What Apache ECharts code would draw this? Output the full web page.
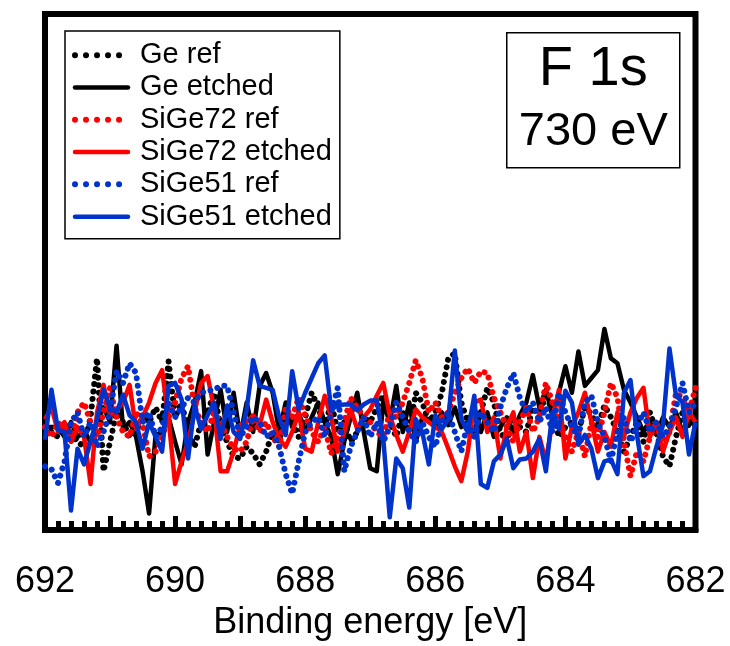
<!DOCTYPE html>
<html>
<head>
<meta charset="utf-8">
<script src="https://cdn.jsdelivr.net/npm/echarts@6.0.0/dist/echarts.min.js"></script>
<style>
  html, body { margin: 0; padding: 0; background: #fff; }
  #root { width: 730px; height: 646px; }
</style>
</head>
<body>
<div id="root"></div>
<script>
// binding energy grid (eV), 0.1 eV step
const energy = [
  692.0, 691.9, 691.8, 691.7, 691.6, 691.5, 691.4, 691.3, 691.2, 691.1,
  691.0, 690.9, 690.8, 690.7, 690.6, 690.5, 690.4, 690.3, 690.2, 690.1,
  690.0, 689.9, 689.8, 689.7, 689.6, 689.5, 689.4, 689.3, 689.2, 689.1,
  689.0, 688.9, 688.8, 688.7, 688.6, 688.5, 688.4, 688.3, 688.2, 688.1,
  688.0, 687.9, 687.8, 687.7, 687.6, 687.5, 687.4, 687.3, 687.2, 687.1,
  687.0, 686.9, 686.8, 686.7, 686.6, 686.5, 686.4, 686.3, 686.2, 686.1,
  686.0, 685.9, 685.8, 685.7, 685.6, 685.5, 685.4, 685.3, 685.2, 685.1,
  685.0, 684.9, 684.8, 684.7, 684.6, 684.5, 684.4, 684.3, 684.2, 684.1,
  684.0, 683.9, 683.8, 683.7, 683.6, 683.5, 683.4, 683.3, 683.2, 683.1,
  683.0, 682.9, 682.8, 682.7, 682.6, 682.5, 682.4, 682.3, 682.2, 682.1,
  682.0
];

// intensities (arb. units)
const geRef = [
  105, 100, 95, 110, 100, 90, 85, 115, 175, 60,
  90, 120, 110, 95, 100, 115, 110, 125, 110, 172,
  115, 130, 100, 85, 110, 120, 140, 105, 90, 75,
  73, 85, 78, 67, 80, 100, 90, 120, 110, 95,
  115, 140, 125, 105, 130, 100, 110, 90, 100, 115,
  110, 125, 138, 110, 95, 120, 100, 140, 130, 110,
  120, 140, 175, 180, 130, 110, 100, 120, 145, 130,
  100, 90, 115, 105, 100, 125, 115, 140, 120, 95,
  105, 110, 100, 125, 118, 105, 127, 115, 100, 80,
  95, 110, 90, 120, 100, 75, 65, 95, 120, 105,
  115
];
const geEtched = [
  105, 105, 105, 95, 110, 95, 100, 90, 110, 125,
  110, 188, 103, 110, 95, 60, 17, 97, 100, 115,
  90, 67, 110, 130, 162, 77, 110, 143, 100, 140,
  95, 130, 100, 147, 160, 140, 100, 130, 105, 120,
  100, 115, 130, 110, 95, 57, 90, 115, 140, 100,
  63, 60, 130, 110, 147, 100, 130, 90, 115, 113,
  105, 120, 107, 125, 105, 110, 125, 100, 120, 95,
  105, 115, 100, 117, 130, 158, 125, 143, 117, 140,
  167, 140, 182, 147, 155, 163, 205, 175, 170, 143,
  130, 115, 100, 110, 97, 115, 105, 120, 100, 110,
  115
];
const sige72Ref = [
  105, 95, 110, 100, 90, 120, 130, 110, 95, 120,
  145, 115, 100, 95, 120, 108, 75, 80, 95, 115,
  130, 155, 167, 125, 110, 100, 120, 110, 95, 83,
  80, 90, 115, 100, 110, 95, 85, 125, 115, 135,
  117, 100, 90, 105, 78, 95, 110, 135, 125, 115,
  110, 100, 95, 120, 115, 130, 150, 173, 155, 120,
  130, 115, 120, 140, 155, 165, 150, 162, 160, 135,
  120, 105, 90, 110, 125, 100, 115, 150, 130, 110,
  95, 80, 100, 75, 110, 95, 120, 150, 135, 90,
  55, 80, 70, 95, 110, 85, 100, 140, 135, 120,
  145
];
const sige72Etched = [
  113, 125, 100, 110, 90, 105, 95, 47, 120, 148,
  117, 122, 130, 148, 103, 115, 130, 150, 163, 113,
  47, 70, 90, 120, 150, 157, 123, 60, 60, 80,
  107, 110, 117, 107, 133, 110, 93, 85, 100, 120,
  83, 80, 110, 137, 115, 80, 100, 123, 103, 115,
  123, 137, 150, 117, 97, 80, 100, 123, 115, 110,
  105, 100, 83, 65, 50, 80, 130, 133, 100, 115,
  73, 105, 120, 80, 100, 53, 95, 70, 110, 143,
  73, 105, 120, 140, 110, 80, 100, 85, 120, 95,
  120, 135, 145, 95, 110, 80, 100, 115, 95, 120,
  110
];
const sige51Ref = [
  65, 62, 48, 70, 110, 120, 95, 110, 85, 100,
  120, 162, 150, 170, 160, 110, 120, 95, 105, 130,
  115, 125, 135, 130, 140, 142, 143, 147, 147, 120,
  95, 105, 115, 110, 95, 100, 85, 57, 37, 70,
  100, 110, 115, 95, 120, 145, 60, 85, 100, 115,
  95, 110, 90, 105, 130, 115, 100, 90, 110, 95,
  85, 110, 120, 100, 80, 110, 95, 120, 110, 100,
  125, 145, 160, 135, 120, 130, 110, 125, 100, 140,
  120, 105, 95, 130, 137, 110, 95, 70, 100, 115,
  90, 105, 120, 100, 110, 95, 105, 125, 150, 120,
  130
];
const sige51Etched = [
  92, 143, 102, 100, 20, 83, 67, 90, 113, 143,
  125, 120, 138, 117, 110, 83, 110, 95, 80, 147,
  150, 133, 73, 127, 103, 117, 130, 93, 127, 100,
  93, 123, 173, 147, 145, 143, 115, 97, 162, 123,
  140, 155, 170, 178, 123, 127, 128, 128, 122, 128,
  132, 132, 93, 13, 73, 63, 23, 113, 100, 67,
  117, 103, 113, 183, 113, 100, 137, 47, 43, 70,
  77, 93, 63, 72, 73, 80, 93, 60, 120, 103,
  142, 130, 87, 97, 83, 53, 70, 72, 57, 140,
  153, 97, 55, 60, 85, 107, 185, 137, 130, 77,
  110
];

const xTicks = [692, 690, 688, 686, 684, 682];

(function () {
  const FONT = '"Liberation Sans", Arial, Helvetica, sans-serif';
  const BLACK = '#000000';
  const RED = '#ff0000';
  const BLUE = '#0033cc';
  const DOTS = [0.01, 7.5];

  const pairs = values => values.map((v, i) => [energy[i], v]);

  const dotted = (name, color, values) => ({
    name,
    type: 'line',
    data: pairs(values),
    symbol: 'none',
    lineStyle: { color, width: 6, type: DOTS, cap: 'round', join: 'round' },
    itemStyle: { color }
  });
  const solid = (name, color, values) => ({
    name,
    type: 'line',
    data: pairs(values),
    symbol: 'none',
    lineStyle: { color, width: 4.5, type: 'solid', join: 'round' },
    itemStyle: { color }
  });

  const chart = echarts.init(document.getElementById('root'), null, { renderer: 'canvas' });

  const legendDot = name => ({ name, lineStyle: { type: [0.01, 11], width: 6, cap: 'round' } });

  const option = {
    animation: false,
    backgroundColor: '#fff',
    textStyle: { fontFamily: FONT },
    grid: {
      left: 45, right: 34.5, top: 14, bottom: 106,
      show: true,
      borderColor: BLACK,
      borderWidth: 6
    },
    xAxis: {
      type: 'value',
      inverse: true,
      min: 682,
      max: 692,
      interval: 1,
      name: 'Binding energy [eV]',
      nameLocation: 'middle',
      nameGap: 64,
      nameTextStyle: { color: BLACK, fontSize: 36, fontFamily: FONT },
      axisLine: { show: true, lineStyle: { color: BLACK, width: 6 } },
      axisTick: { show: true, inside: true, length: 14, lineStyle: { color: BLACK, width: 5 } },
      minorTick: { show: true, splitNumber: 5, length: 9, lineStyle: { color: BLACK, width: 5 } },
      splitLine: { show: false },
      axisLabel: {
        color: BLACK,
        fontSize: 36,
        fontFamily: FONT,
        margin: 34,
        formatter: v => (xTicks.indexOf(Math.round(v)) >= 0 ? String(Math.round(v)) : '')
      }
    },
    yAxis: {
      type: 'value',
      min: 0,
      max: 526,
      show: false,
      splitLine: { show: false }
    },
    legend: {
      orient: 'vertical',
      left: 65,
      top: 31,
      padding: [8, 8, 6, 7],
      itemGap: 0,
      itemWidth: 53,
      itemHeight: 14,
      borderColor: BLACK,
      borderWidth: 1.5,
      itemStyle: { color: 'transparent', borderWidth: 0, opacity: 0 },
      lineStyle: { width: 4.5, cap: 'round' },
      textStyle: { color: BLACK, fontSize: 29, fontFamily: FONT, lineHeight: 32.3, padding: [0, 0, 0, 7] },
      data: [
        legendDot('Ge ref'), 'Ge etched',
        legendDot('SiGe72 ref'), 'SiGe72 etched',
        legendDot('SiGe51 ref'), 'SiGe51 etched'
      ]
    },
    graphic: [
      {
        type: 'group',
        left: 506,
        top: 32,
        children: [
          {
            type: 'rect',
            shape: { x: 0, y: 0, width: 173, height: 135 },
            style: { fill: '#fff', stroke: BLACK, lineWidth: 1.5 }
          },
          {
            type: 'text',
            x: 86.5,
            y: 37,
            style: { text: 'F 1s', fontSize: 56, fontFamily: FONT, fill: BLACK, align: 'center', verticalAlign: 'middle' }
          },
          {
            type: 'text',
            x: 86.5,
            y: 99,
            style: { text: '730 eV', fontSize: 47, fontFamily: FONT, fill: BLACK, align: 'center', verticalAlign: 'middle' }
          }
        ]
      }
    ],
    series: [
      dotted('Ge ref', BLACK, geRef),
      solid('Ge etched', BLACK, geEtched),
      dotted('SiGe72 ref', RED, sige72Ref),
      solid('SiGe72 etched', RED, sige72Etched),
      dotted('SiGe51 ref', BLUE, sige51Ref),
      solid('SiGe51 etched', BLUE, sige51Etched)
    ]
  };

  chart.setOption(option);
})();
</script>
</body>
</html>
